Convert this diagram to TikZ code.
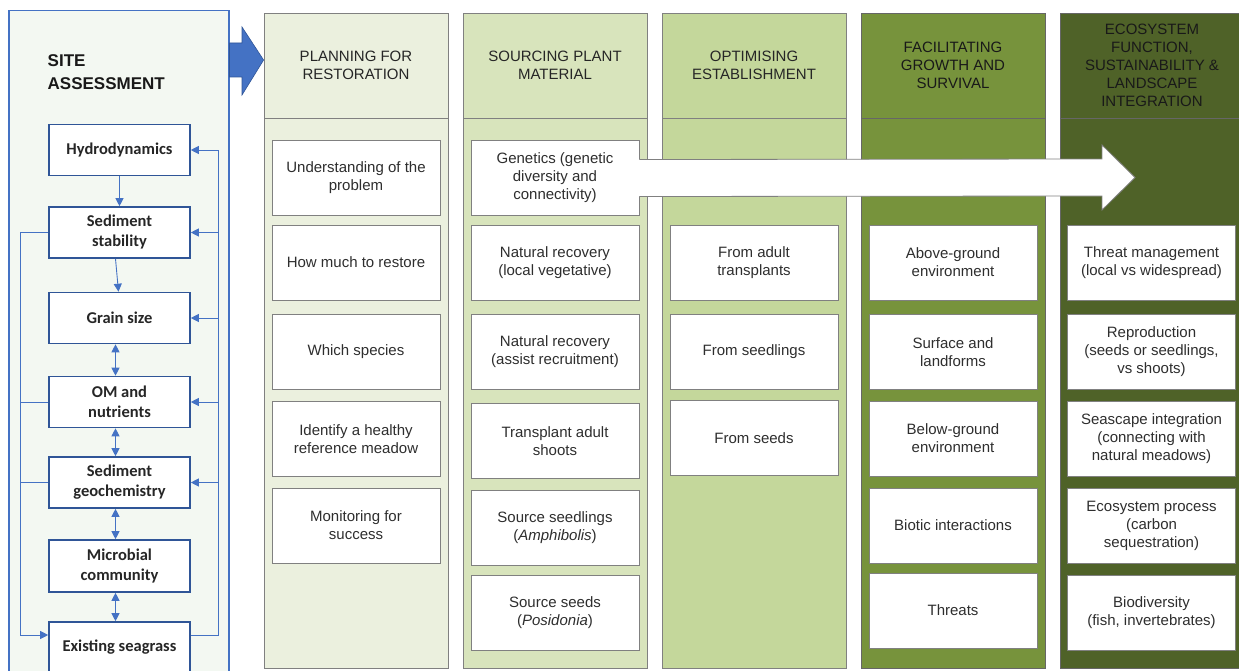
\documentclass[tikz,border=0pt]{standalone}
\usepackage{fontspec}
\setmainfont{Liberation Sans}
\newfontfamily\carlito{Carlito}
\usetikzlibrary{arrows.meta,calc}
\definecolor{panelfill}{HTML}{F3F8F2}
\definecolor{panelblue}{HTML}{4472C4}
\definecolor{boxblue}{HTML}{2F5597}
\definecolor{cA}{HTML}{EBF0DE}
\definecolor{cB}{HTML}{D8E4BC}
\definecolor{cC}{HTML}{C4D79B}
\definecolor{cD}{HTML}{77933C}
\definecolor{cE}{HTML}{4F6228}
\definecolor{txt}{HTML}{2E2E2E}
\definecolor{edge}{HTML}{808080}
\tikzset{
 hdr/.style={draw=edge, line width=0.8pt, minimum width=184pt, minimum height=105pt, align=center, font=\fontsize{15}{18}\selectfont, text=black!85, inner sep=0pt},
 colbody/.style={draw=edge, line width=0.8pt, minimum width=184pt, minimum height=550pt, inner sep=0pt},
 item/.style={draw=edge, line width=0.8pt, fill=white, minimum width=168pt, minimum height=75pt, align=center, font=\fontsize{15}{18}\selectfont, text=txt, inner sep=0pt},
 sbox/.style={draw=boxblue, line width=1.6pt, fill=white, minimum width=141pt, minimum height=51pt, align=center, font=\carlito\bfseries\fontsize{16.5}{20}\selectfont, text=black!85, inner sep=0pt},
 fb/.style={draw=panelblue, line width=0.9pt},
 fba/.style={fb, -{Triangle[length=8pt,width=8pt]}},
 fbb/.style={fb, {Triangle[length=8pt,width=8pt]}-{Triangle[length=8pt,width=8pt]}},
}
\begin{document}
\begin{tikzpicture}[x=1pt,y=-1pt]
\useasboundingbox (0,0) rectangle (1239,671);
\clip (0,0) rectangle (1239,671);
\fill[white] (0,0) rectangle (1239,671);

% ---------- columns ----------
\node[colbody, fill=cA] (b1) at (356,393) {};
\node[hdr, fill=cA] (h1) at (356,65.5) {PLANNING FOR\\RESTORATION};
\node[colbody, fill=cB] (b2) at (555,393) {};
\node[hdr, fill=cB] (h2) at (555,65.5) {SOURCING PLANT\\MATERIAL};
\node[colbody, fill=cC] (b3) at (754,393) {};
\node[hdr, fill=cC] (h3) at (754,65.5) {OPTIMISING\\ESTABLISHMENT};
\node[colbody, fill=cD, draw=black!60] (b4) at (953,393) {};
\node[hdr, fill=cD, draw=black!60, text=black!90] (h4) at (953,65.5) {FACILITATING\\GROWTH AND\\SURVIVAL};
\node[colbody, fill=cE, draw=black!60] (b5) at (1152,393) {};
\node[hdr, fill=cE, draw=black!60, text=black!90] (h5) at (1152,65.5) {ECOSYSTEM\\FUNCTION,\\SUSTAINABILITY \&\\LANDSCAPE\\INTEGRATION};

% column 1
\node[item] (p1) at (356,178) {Understanding of the\\problem};
\node[item] (p2) at (356,262.5) {How much to restore};
\node[item] (p3) at (356,352) {Which species};
\node[item] (p4) at (356,439) {Identify a healthy\\reference meadow};
\node[item] (p5) at (356,525.5) {Monitoring for\\success};
% column 2
\node[item] (s1) at (555,178) {Genetics (genetic\\diversity and\\connectivity)};
\node[item] (s2) at (555,262.5) {Natural recovery\\(local vegetative)};
\node[item] (s3) at (555,352) {Natural recovery\\(assist recruitment)};
\node[item] (s4) at (555,441) {Transplant adult\\shoots};
\node[item] (s5) at (555,527.5) {Source seedlings\\(\textit{Amphibolis})};
\node[item] (s6) at (555,613) {Source seeds\\(\textit{Posidonia})};
% column 3
\node[item] (o1) at (754,262.5) {From adult\\transplants};
\node[item] (o2) at (754,352) {From seedlings};
\node[item] (o3) at (754,438) {From seeds};
% column 4
\node[item] (f1) at (953,262.5) {Above-ground\\environment};
\node[item] (f2) at (953,352) {Surface and\\landforms};
\node[item] (f3) at (953,438.5) {Below-ground\\environment};
\node[item] (f4) at (953,525.5) {Biotic interactions};
\node[item] (f5) at (953,610.5) {Threats};
% column 5
\node[item] (e1) at (1151.5,262.5) {Threat management\\(local vs widespread)};
\node[item] (e2) at (1151.5,352) {Reproduction\\(seeds or seedlings,\\vs shoots)};
\node[item] (e3) at (1151.5,438.5) {Seascape integration\\(connecting with\\natural meadows)};
\node[item] (e4) at (1151.5,525.5) {Ecosystem process\\(carbon\\sequestration)};
\node[item] (e5) at (1151.5,612.5) {Biodiversity\\(fish, invertebrates)};

% big white arrow from genetics box
\coordinate (ga) at ($(s1.east)+(-1.2,0)$);
\fill[white] ($(ga)+(0,-18.5)$) -- (1102,159) -- (1102,145) -- (1135,177.5) -- (1102,210) -- (1102,196) -- ($(ga)+(0,18.5)$) -- cycle;
\draw[edge, line width=0.8pt, line join=miter] ($(s1.east)+(0,-18.5)$) -- (1102,159) -- (1102,145) -- (1135,177.5) -- (1102,210) -- (1102,196) -- ($(s1.east)+(0,18.5)$);

% ---------- site assessment panel ----------
\node[draw=panelblue, line width=1.5pt, fill=panelfill, minimum width=220pt, minimum height=690pt, inner sep=0pt, anchor=north west] (panel) at (8,10) {};
\node[anchor=north west, align=left, font=\bfseries\fontsize{17}{23}\selectfont, text=black!90, inner sep=0pt] (title) at (47.5,54) {SITE\\ASSESSMENT};

\node[sbox] (hy) at (119.5,150) {Hydrodynamics};
\node[sbox] (ss) at (119.5,232.5) {Sediment\\stability};
\node[sbox] (gs) at (119.5,318) {Grain size};
\node[sbox] (om) at (119.5,402) {OM and\\nutrients};
\node[sbox] (geo) at (119.5,482.5) {Sediment\\geochemistry};
\node[sbox, minimum height=52pt] (mc) at (119.5,566) {Microbial\\community};
\node[sbox, minimum height=56pt, text depth=9pt] (ex) at (119.5,650) {Existing seagrass};

\coordinate (R) at (218,0);
\coordinate (L) at (20,0);
\coordinate (exr) at ($(ex.east)+(0,-15)$);
\coordinate (exl) at ($(ex.west)+(0,-15)$);

\draw[fba] (hy.south) -- (ss.north);
\draw[fba] ($(ss.south)+(-4,0)$) -- ($(gs.north)+(-1,0)$);
\draw[fbb] ($(gs.south)+(-4,0)$) -- ($(om.north)+(-4,0)$);
\draw[fbb] ($(om.south)+(-4,0)$) -- ($(geo.north)+(-4,0)$);
\draw[fbb] ($(geo.south)+(-4,0)$) -- ($(mc.north)+(-4,0)$);
\draw[fbb] ($(mc.south)+(-4,0)$) -- ($(ex.north)+(-4,0)$);

\draw[fb] (exr) -- (exr -| R) -- (hy.east -| R);
\draw[fba] (hy.east -| R) -- (hy.east);
\draw[fba] (ss.east -| R) -- (ss.east);
\draw[fba] (gs.east -| R) -- (gs.east);
\draw[fba] (om.east -| R) -- (om.east);
\draw[fba] (geo.east -| R) -- (geo.east);

\draw[fb] (ss.west) -- (ss.west -| L) -- (exl -| L);
\draw[fba] (exl -| L) -- (exl);
\draw[fb] (om.west) -- (om.west -| L);
\draw[fb] (geo.west) -- (geo.west -| L);

% blue arrow into first column
\draw[fill=panelblue, draw=boxblue, line width=0.6pt, line join=miter] (panel.east |- 0,43) -- (242,43) -- (242,27) -- (h1.west |- 0,60) -- (242,95) -- (242,77) -- (panel.east |- 0,77) -- cycle;
\end{tikzpicture}
\end{document}
